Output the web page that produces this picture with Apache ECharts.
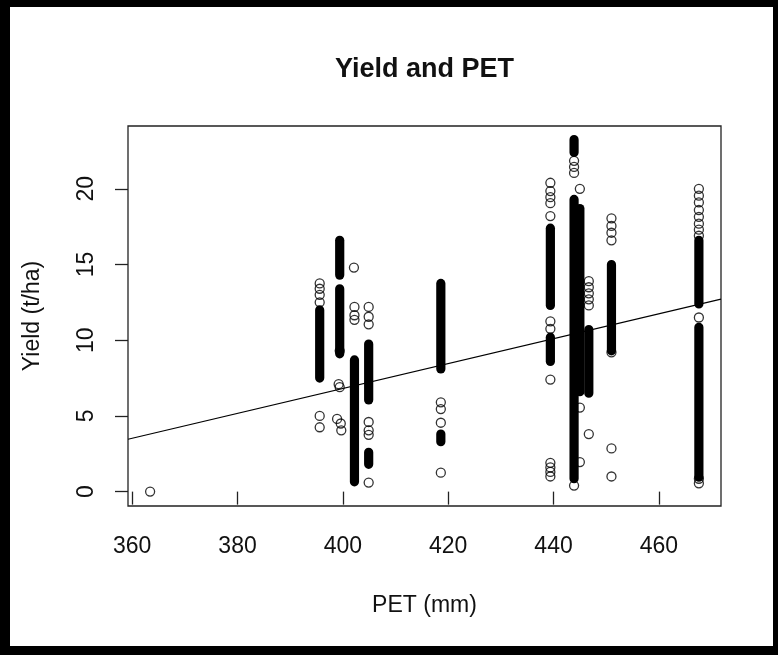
<!DOCTYPE html>
<html>
<head>
<meta charset="utf-8">
<script src="https://cdn.jsdelivr.net/npm/echarts@6/dist/echarts.min.js"></script>
<style>
  html, body { margin: 0; padding: 0; background: #fff; }
  #chart { width: 778px; height: 655px; }
</style>
</head>
<body>
<div id="chart"></div>
<script>
// tick labels
var petTicks = [360, 380, 400, 420, 440, 460];
var yieldTicks = [0, 5, 10, 15, 20];

// single (separate) observations: [PET, yield]
var singlePoints = [
  [363.4, 0.0],
  [395.6, 13.75], [395.6, 13.4], [395.6, 13.0], [395.6, 12.5], [395.6, 5.0], [395.6, 4.25],
  [399.4, 9.3], [399.2, 7.1], [399.4, 6.9], [398.9, 4.8], [399.6, 4.5], [399.7, 4.05],
  [402.1, 14.8],
  [402.2, 12.2], [402.2, 11.65], [402.2, 11.35],
  [404.9, 12.2], [404.9, 11.55], [404.9, 11.05], [404.9, 4.6], [404.9, 4.05], [404.9, 3.75], [404.9, 0.6],
  [418.6, 5.9], [418.6, 5.45], [418.6, 4.55], [418.6, 1.25],
  [439.4, 20.4], [439.4, 19.85], [439.4, 19.45], [439.4, 19.05], [439.4, 18.2],
  [439.4, 11.25], [439.4, 10.75], [439.4, 7.4],
  [439.4, 1.9], [439.4, 1.6], [439.4, 1.3], [439.4, 1.0],
  [443.9, 21.85], [443.9, 21.45], [443.9, 21.05], [443.9, 0.4], [445.0, 20.0],
  [445.0, 5.55], [445.0, 1.95], [446.7, 3.8],
  [446.7, 13.9], [446.7, 13.5], [446.7, 13.1], [446.7, 12.7], [446.7, 12.3],
  [451.0, 18.05], [451.0, 17.55], [451.0, 17.1], [451.0, 16.6], [451.0, 9.2], [451.0, 2.85], [451.0, 1.0],
  [467.6, 20.0], [467.6, 19.55], [467.6, 19.1], [467.6, 18.6], [467.6, 18.15],
  [467.6, 17.7], [467.6, 17.3], [467.6, 16.9], [467.6, 11.5], [467.6, 0.85], [467.6, 0.55]
];

// runs of overlapping observations: [PET, yield from, yield to]
var denseRuns = [
  [395.6, 7.5, 12.0],
  [399.4, 14.3, 16.6],
  [399.4, 9.1, 13.4],
  [402.2, 0.65, 8.7],
  [404.9, 6.05, 9.75],
  [404.9, 1.8, 2.6],
  [418.6, 8.1, 13.75],
  [418.6, 3.3, 3.8],
  [439.4, 12.3, 17.4],
  [439.4, 8.6, 10.2],
  [443.9, 22.4, 23.25],
  [443.9, 0.85, 19.3],
  [445.0, 6.6, 18.7],
  [446.7, 6.5, 10.7],
  [451.0, 9.3, 15.0],
  [467.6, 12.4, 16.6],
  [467.6, 0.95, 10.85]
];

// fitted line ends
var trendLine = [[359.2, 3.46], [471.8, 12.72]];

var FONT = "'Liberation Sans', Arial, sans-serif";
var chart = echarts.init(document.getElementById("chart"));

var option = {
  animation: false,
  backgroundColor: "#fff",
  grid: {
    left: 128,
    right: 57,
    top: 126,
    bottom: 149,
    show: true,
    borderColor: "#222",
    borderWidth: 1.3,
    backgroundColor: "transparent"
  },
  xAxis: {
    type: "value",
    min: 359.2,
    max: 471.8,
    name: "PET (mm)",
    nameLocation: "middle",
    nameGap: 88,
    nameTextStyle: { fontFamily: FONT, fontSize: 23, color: "#111" },
    axisLine: { show: false },
    splitLine: { show: false },
    axisTick: {
      show: true,
      customValues: petTicks,
      length: 13,
      lineStyle: { color: "#222", width: 1.3 }
    },
    axisLabel: {
      customValues: petTicks,
      margin: 29,
      fontFamily: FONT,
      fontSize: 23,
      color: "#111"
    }
  },
  yAxis: {
    type: "value",
    min: -0.95,
    max: 24.15,
    name: "Yield (t/ha)",
    nameLocation: "middle",
    nameGap: 84,
    nameTextStyle: { fontFamily: FONT, fontSize: 23, color: "#111" },
    axisLine: { show: false },
    splitLine: { show: false },
    axisTick: {
      show: true,
      customValues: yieldTicks,
      length: 13,
      lineStyle: { color: "#222", width: 1.3 }
    },
    axisLabel: {
      customValues: yieldTicks,
      rotate: 90,
      margin: 30,
      fontFamily: FONT,
      fontSize: 23,
      color: "#111"
    }
  },
  graphic: [
    {
      type: "text",
      x: 424.5,
      y: 69.5,
      style: {
        text: "Yield and PET",
        font: "bold 27px " + FONT,
        fill: "#111",
        textAlign: "center",
        textVerticalAlign: "middle"
      }
    },
    { type: "rect", shape: { x: 0, y: 0, width: 778, height: 7 }, style: { fill: "#000" } },
    { type: "rect", shape: { x: 0, y: 0, width: 10, height: 655 }, style: { fill: "#000" } },
    { type: "rect", shape: { x: 773, y: 0, width: 5, height: 655 }, style: { fill: "#000" } },
    { type: "rect", shape: { x: 0, y: 646, width: 778, height: 9 }, style: { fill: "#000" } }
  ],
  series: [
    {
      type: "custom",
      data: denseRuns,
      encode: { x: 0, y: [1, 2] },
      silent: true,
      z: 2,
      renderItem: function (params, api) {
        var top = api.coord([api.value(0), api.value(2)]);
        var bot = api.coord([api.value(0), api.value(1)]);
        var r = 4.6;
        return {
          type: "rect",
          shape: { x: top[0] - r, y: top[1] - r, width: 2 * r, height: bot[1] - top[1] + 2 * r, r: r },
          style: { fill: "#000" }
        };
      }
    },
    {
      type: "scatter",
      data: singlePoints,
      symbol: "circle",
      symbolSize: 9,
      silent: true,
      z: 3,
      itemStyle: { color: "rgba(0,0,0,0)", borderColor: "#000", borderWidth: 1.3 }
    },
    {
      type: "line",
      data: trendLine,
      symbol: "none",
      silent: true,
      z: 4,
      lineStyle: { color: "#000", width: 1.2 }
    }
  ]
};
chart.setOption(option);
</script>
</body>
</html>
